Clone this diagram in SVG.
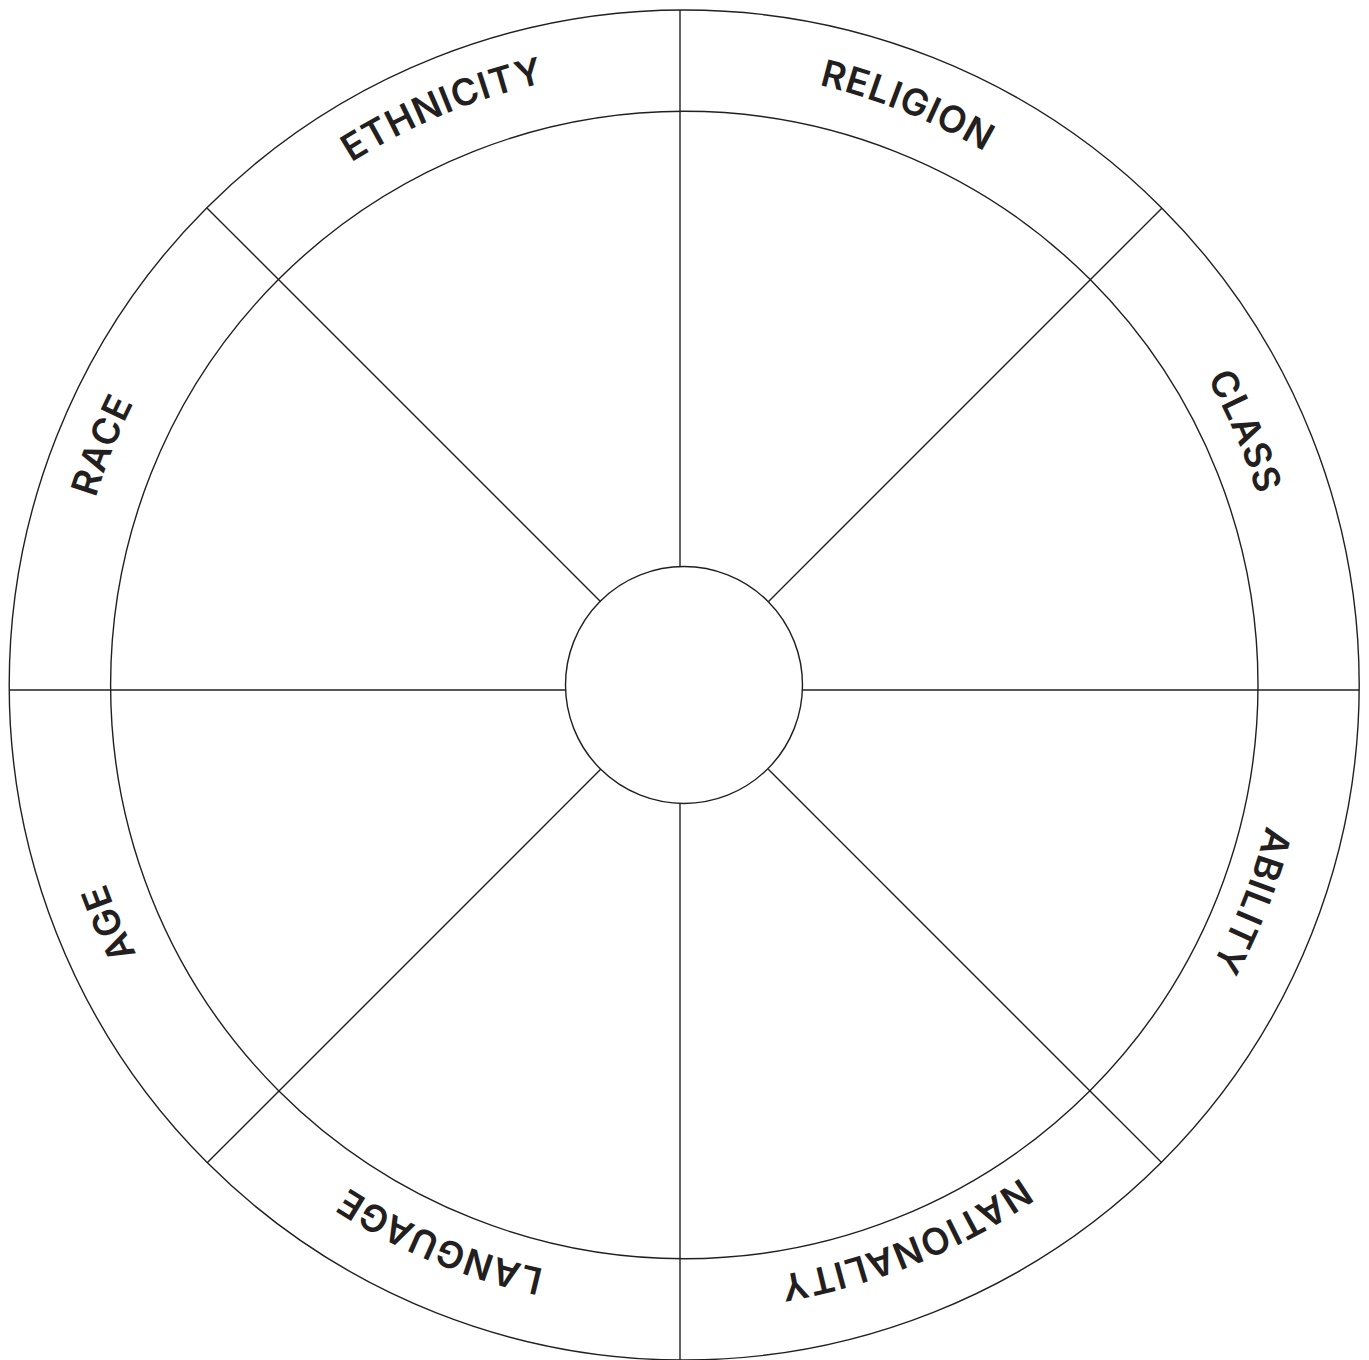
<svg xmlns="http://www.w3.org/2000/svg" xmlns:xlink="http://www.w3.org/1999/xlink" width="1369" height="1360" viewBox="0 0 1369 1360">
  <style>
    .ring { fill: none; stroke: #231f20; stroke-width: 1.4; }
    .spoke { stroke: #231f20; stroke-width: 1.4; fill: none; }
    .lbl { font-family: "Inter", "Liberation Sans", sans-serif; font-weight: 600; font-size: 37px; fill: #231f20; letter-spacing: 1px; }
  </style>
  <defs>
    <path id="textCircle" d="M 677 68 A 608 608 0 1 1 677 1284 A 608 608 0 1 1 677 68 Z"/>
  </defs>
  <rect x="0" y="0" width="1369" height="1360" fill="#ffffff"/>
  <g id="wheel">
    <circle id="outer-ring" class="ring" cx="684.2" cy="685" r="675"/>
    <circle id="inner-ring" class="ring" cx="684.3" cy="685" r="573.7"/>
    <circle id="hub" class="ring" cx="684" cy="685" r="118.5"/>
  </g>
  <g id="connectors">
    <line class="spoke" x1="680" y1="10" x2="680" y2="566.6"/>
    <line class="spoke" x1="680" y1="803.4" x2="680" y2="1360"/>
    <line class="spoke" x1="9" y1="690" x2="565.6" y2="690"/>
    <line class="spoke" x1="802.4" y1="690" x2="1359" y2="690"/>
    <line class="spoke" x1="207.2" y1="208.2" x2="600.7" y2="601.7"/>
    <line class="spoke" x1="1161.8" y1="208.2" x2="768.3" y2="601.7"/>
    <line class="spoke" x1="600.7" y1="769.3" x2="207.2" y2="1162.8"/>
    <line class="spoke" x1="768.3" y1="769.3" x2="1161.8" y2="1162.8"/>
  </g>
  <g id="label-religion"><text class="lbl" text-anchor="middle"><textPath xlink:href="#textCircle" href="#textCircle" startOffset="6.11%">RELIGION</textPath></text></g>
  <g id="label-class"><text class="lbl" text-anchor="middle"><textPath xlink:href="#textCircle" href="#textCircle" startOffset="18.53%">CLASS</textPath></text></g>
  <g id="label-ability"><text class="lbl" text-anchor="middle"><textPath xlink:href="#textCircle" href="#textCircle" startOffset="30.94%">ABILITY</textPath></text></g>
  <g id="label-nationality"><text class="lbl" text-anchor="middle"><textPath xlink:href="#textCircle" href="#textCircle" startOffset="43.88%">NATIONALITY</textPath></text></g>
  <g id="label-language"><text class="lbl" text-anchor="middle"><textPath xlink:href="#textCircle" href="#textCircle" startOffset="56.31%">LANGUAGE</textPath></text></g>
  <g id="label-age"><text class="lbl" text-anchor="middle"><textPath xlink:href="#textCircle" href="#textCircle" startOffset="68.47%">AGE</textPath></text></g>
  <g id="label-race"><text class="lbl" text-anchor="middle"><textPath xlink:href="#textCircle" href="#textCircle" startOffset="81.08%">RACE</textPath></text></g>
  <g id="label-ethnicity"><text class="lbl" text-anchor="middle"><textPath xlink:href="#textCircle" href="#textCircle" startOffset="93.76%">ETHNICITY</textPath></text></g>
</svg>
